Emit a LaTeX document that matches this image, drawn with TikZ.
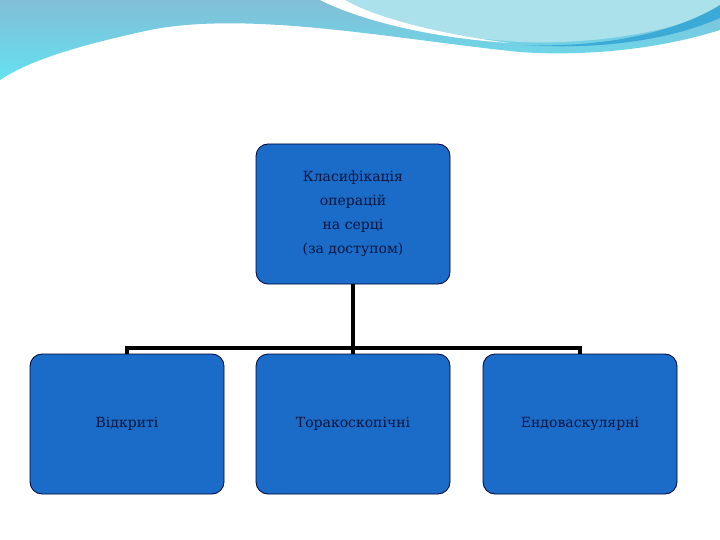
\documentclass[tikz,border=0pt]{standalone}
\usepackage{fontspec}
\setmainfont{DejaVu Serif}
\definecolor{boxblue}{RGB}{26,108,200}
\definecolor{txt}{RGB}{10,20,60}
\definecolor{wavetop}{RGB}{130,190,215}
\definecolor{wavebot}{RGB}{100,225,240}
\definecolor{wavelight}{RGB}{170,225,235}
\definecolor{wavedark}{RGB}{60,170,215}
\begin{document}
\begin{tikzpicture}[x=1pt,y=-1pt,
  box/.style={draw=black!80!blue,line width=0.8pt,fill=boxblue,rounded corners=12pt,minimum width=194pt,minimum height=140pt,align=center,text=txt,font=\fontsize{14}{24}\selectfont},
  conn/.style={line width=4.5pt}]
\useasboundingbox (0,0) rectangle (720,540);
\fill[white] (0,0) rectangle (720,540);
% top wave
\shade[top color=wavetop,bottom color=wavebot]
  (0,0) -- (720,0) -- (720,30) .. controls (640,55) and (560,55) .. (520,52)
  .. controls (400,40) and (250,10) .. (150,30) .. controls (80,45) and (30,60) .. (0,80) -- cycle;
\fill[wavelight] (325,0) .. controls (360,20) and (420,35) .. (520,42)
  .. controls (600,45) and (680,30) .. (720,8) -- (720,0) -- cycle;
\fill[white] (320,0) .. controls (360,20) and (430,38) .. (510,43) .. controls (430,33) and (370,15) .. (345,0) -- cycle;
\fill[wavedark] (525,45) .. controls (610,48) and (680,30) .. (720,5) -- (720,18) .. controls (670,40) and (600,50) .. (525,45) -- cycle;
% nodes
\node[box] (top) at (353,214) {Класифікація\\операцій\\на серці\\(за доступом)};
\node[box] (a) at (127,424) {Відкриті};
\node[box] (b) at (353,424) {Торакоскопічні};
\node[box] (c) at (580,424) {Ендоваскулярні};
\coordinate (j) at (353,348);
\draw[conn] (top.south) -- (j);
\draw[conn] (a.north) |- (j) -| (c.north);
\draw[conn] (j) -- (b.north);
\end{tikzpicture}
\end{document}
